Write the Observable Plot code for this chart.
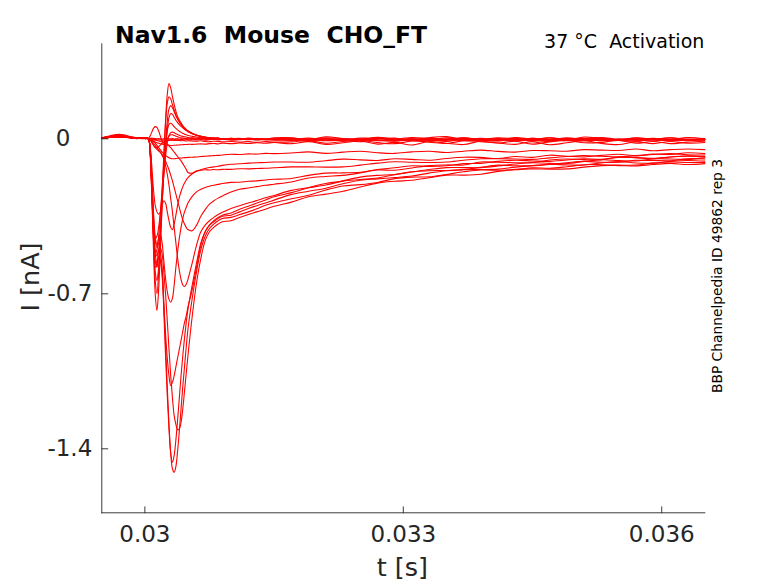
<!DOCTYPE html>
<html><head><meta charset="utf-8">
<script src="https://cdn.jsdelivr.net/npm/d3@7"></script>
<script src="https://cdn.jsdelivr.net/npm/@observablehq/plot@0.6"></script>
<style>body{margin:0;background:#fff}#chart{width:778px;height:583px}</style>
</head><body><div id="chart"></div>
<script>
// time samples (s)
const time = [0.0295,0.0297,0.0299,0.0300,0.03004,
0.03006,0.03008,0.0301,0.03012,0.03014,0.03016,0.03018,
0.0302,0.03022,0.03024,0.03026,0.03028,0.0303,0.03032,0.03034,0.03036,0.03038,0.0304,0.03042,0.03044,0.03046,0.03048,0.0305,
0.03055,0.0306,0.03065,0.0307,0.03075,0.0308,0.03085,0.0309,
0.0310,0.0311,0.0312,0.0313,0.0314,0.0315,
0.0317,0.0319,0.0321,0.0323,0.0325,0.0327,0.0329,0.0331,0.0333,0.0335,0.0337,0.0339,0.0341,0.0343,0.0345,0.0347,0.0349,0.0351,0.0353,0.0355,0.0357,0.0359,0.0361,0.0363,0.0365];

// current traces (nA)
const n1 = [0.004,0.015,0.002,0.003,0.001,
0.001,0,-0.002,-0.003,-0.004,-0.005,-0.005,
-0.006,-0.006,-0.005,-0.006,-0.007,-0.006,-0.006,-0.007,-0.008,-0.007,-0.008,-0.009,-0.008,-0.009,-0.01,-0.009,
-0.01,-0.011,-0.009,-0.012,-0.013,-0.011,-0.012,-0.014,
-0.012,-0.015,-0.013,-0.016,-0.013,-0.015,
-0.014,-0.008,-0.02,-0.012,-0.006,-0.017,-0.022,-0.01,-0.015,-0.021,-0.009,-0.013,-0.019,-0.011,-0.024,-0.014,-0.008,-0.018,-0.016,-0.007,-0.02,-0.012,-0.022,-0.015,-0.011];
const n2 = [0.002,0.02,0.004,0,0.002,
0.002,0.003,0.002,0.001,0,0.001,0,
-0.001,0,0.001,0,-0.001,0,0.001,-0.001,0,0.001,-0.002,0,-0.001,0.002,0,-0.001,
0.001,-0.002,0.003,0,-0.003,0.002,0.004,-0.001,
0.002,-0.002,0.003,0,-0.002,0.004,
0.004,-0.004,0.009,0.001,-0.005,0.007,-0.002,-0.006,0.005,0.01,-0.003,0.002,-0.007,0.006,-0.001,0.004,-0.005,0.008,0.001,-0.006,0.005,-0.002,-0.004,0.006,0.001];
const n3 = [0.006,0.01,0.001,0.004,0,
-0.002,-0.006,-0.01,-0.014,-0.018,-0.02,-0.022,
-0.024,-0.026,-0.028,-0.028,-0.029,-0.03,-0.03,-0.029,-0.029,-0.028,-0.028,-0.027,-0.027,-0.026,-0.026,-0.025,
-0.025,-0.024,-0.023,-0.024,-0.022,-0.021,-0.023,-0.02,
-0.022,-0.019,-0.021,-0.018,-0.02,-0.017,
-0.022,-0.013,-0.025,-0.018,-0.01,-0.024,-0.016,-0.028,-0.012,-0.02,-0.026,-0.011,-0.019,-0.025,-0.013,-0.027,-0.018,-0.009,-0.021,-0.026,-0.014,-0.022,-0.012,-0.02,-0.017];
const n4 = [0.003,0.008,0.005,0.001,0.001,
-0.005,-0.015,-0.028,-0.038,-0.04,-0.035,-0.028,
-0.02,-0.014,-0.01,-0.008,-0.006,-0.005,-0.005,-0.004,-0.004,-0.005,-0.004,-0.003,-0.004,-0.005,-0.003,-0.004,
-0.004,-0.005,-0.003,-0.006,-0.004,-0.002,-0.005,-0.003,
-0.006,-0.004,-0.002,-0.005,-0.003,-0.006,
-0.004,-0.011,0.001,-0.007,-0.013,-0.002,0.003,-0.009,-0.004,-0.012,0,-0.006,-0.01,0.002,-0.007,-0.012,-0.003,-0.009,0.001,-0.006,-0.011,-0.002,-0.008,-0.005,-0.003];
const r1 = [0.004,0.01,0.003,0.002,0.001,
0.012,0.03,0.047,0.055,0.052,0.035,0.012,
-0.01,-0.02,-0.015,0,0.012,0.018,0.018,0.015,0.012,0.009,0.006,0.004,0.003,0.002,0.001,0,
0,-0.001,0.002,-0.002,0.001,-0.003,0.001,-0.002,
0.002,-0.001,-0.003,0.001,-0.002,0,
-0.002,0.003,-0.005,0,-0.004,0.004,-0.003,-0.006,0.003,-0.002,0.005,-0.004,0.001,-0.006,0.002,-0.003,0.004,-0.001,0.002,-0.005,0,-0.002,0.004,-0.003,-0.001];
const f1 = [0.005,0.012,0.002,0.001,0,
-0.06,-0.25,-0.5,-0.7,-0.775,-0.68,-0.5,
-0.3,-0.1,0.08,0.2,0.25,0.23,0.19,0.155,0.125,0.1,0.085,0.072,0.06,0.05,0.042,0.035,
0.024,0.016,0.01,0.006,0.004,0.002,0.001,0,
-0.002,0.001,-0.003,0,-0.002,0.001,
0.001,-0.006,0,-0.005,0.003,0.002,-0.007,-0.001,-0.004,0.004,-0.002,-0.008,0,-0.003,0.002,-0.006,0.001,-0.002,-0.007,-0.001,-0.004,0.002,-0.005,-0.002,-0.003];
const f2 = [0.003,0.009,0.004,0.002,0.001,
-0.05,-0.22,-0.45,-0.64,-0.7,-0.6,-0.42,
-0.24,-0.07,0.07,0.16,0.19,0.18,0.155,0.13,0.108,0.09,0.077,0.065,0.055,0.047,0.04,0.034,
0.024,0.016,0.011,0.007,0.005,0.003,0.002,0,
0.001,-0.001,-0.003,0,-0.002,-0.004,
-0.004,-0.001,-0.008,-0.004,-0.002,-0.009,-0.003,0.001,-0.005,-0.007,-0.001,-0.004,-0.009,-0.002,-0.004,-0.007,0,-0.005,-0.008,-0.002,-0.004,-0.009,-0.003,-0.005,-0.004];
const f3 = [0.002,0.011,0.005,0.003,0,
-0.04,-0.2,-0.42,-0.6,-0.64,-0.58,-0.45,
-0.3,-0.15,-0.02,0.08,0.135,0.15,0.14,0.122,0.104,0.089,0.076,0.065,0.056,0.048,0.041,0.035,
0.025,0.017,0.011,0.007,0.004,0.002,0,-0.001,
-0.003,-0.001,-0.004,-0.002,-0.005,-0.003,
-0.006,-0.003,-0.009,-0.006,-0.002,-0.008,-0.011,-0.004,-0.007,-0.002,-0.009,-0.006,-0.003,-0.01,-0.006,-0.004,-0.009,-0.007,-0.002,-0.006,-0.01,-0.004,-0.008,-0.005,-0.006];
const f4 = [0.004,0.013,0.003,0.002,0.002,
-0.05,-0.24,-0.45,-0.58,-0.56,-0.5,-0.4,
-0.28,-0.16,-0.05,0.04,0.095,0.114,0.11,0.097,0.084,0.073,0.064,0.056,0.049,0.043,0.037,0.032,
0.023,0.016,0.011,0.008,0.005,0.003,0.002,0.001,
0,0.002,-0.001,0.001,-0.002,0,
0.003,-0.002,0.005,0,-0.004,0.004,-0.001,0.006,0.001,-0.003,0.004,-0.002,0.005,0,-0.003,0.004,-0.001,0.002,0.006,-0.002,0.003,-0.001,0.004,-0.002,0.001];
const f5 = [0.001,0.009,0.002,0.003,0.001,
-0.05,-0.22,-0.42,-0.52,-0.5,-0.44,-0.34,
-0.23,-0.12,-0.03,0.035,0.065,0.07,0.064,0.055,0.047,0.04,0.034,0.029,0.025,0.021,0.018,0.015,
0.011,0.008,0.005,0.003,0.002,0.001,0,-0.001,
0.001,-0.002,0,-0.003,-0.001,-0.002,
0,-0.004,-0.001,-0.006,-0.002,0.002,-0.003,-0.007,-0.001,-0.003,0.001,-0.005,-0.002,-0.007,-0.001,-0.003,-0.006,0.001,-0.002,-0.006,-0.003,0,-0.005,-0.002,-0.003];
const f6 = [0.003,0.01,0.003,0.001,0,
-0.04,-0.18,-0.36,-0.45,-0.44,-0.4,-0.33,
-0.25,-0.16,-0.08,-0.02,0.015,0.028,0.03,0.027,0.023,0.019,0.016,0.013,0.011,0.009,0.008,0.006,
0.004,0.003,0.001,0,-0.001,0,-0.002,-0.001,
-0.003,-0.001,-0.002,-0.004,-0.002,-0.003,
-0.007,-0.002,-0.008,-0.003,-0.001,-0.006,-0.009,-0.003,-0.007,-0.001,-0.008,-0.004,-0.001,-0.007,-0.003,-0.009,-0.002,-0.005,-0.009,-0.003,-0.006,-0.001,-0.005,-0.008,-0.004];
const s1 = [0.002,0.012,0.003,0.002,0,
0,-0.005,-0.012,-0.02,-0.03,-0.04,-0.05,
-0.06,-0.068,-0.075,-0.081,-0.086,-0.089,-0.09,-0.09,-0.089,-0.088,-0.087,-0.087,-0.086,-0.085,-0.085,-0.084,
-0.083,-0.082,-0.08,-0.079,-0.077,-0.076,-0.075,-0.073,
-0.07,-0.071,-0.068,-0.069,-0.066,-0.067,
-0.064,-0.059,-0.066,-0.06,-0.056,-0.063,-0.066,-0.059,-0.056,-0.062,-0.056,-0.051,-0.057,-0.06,-0.053,-0.054,-0.056,-0.049,-0.051,-0.053,-0.046,-0.054,-0.049,-0.046,-0.049];
const s2 = [0.005,0.011,0.001,0.003,0.001,
0,-0.002,-0.004,-0.006,-0.008,-0.01,-0.012,
-0.014,-0.016,-0.02,-0.025,-0.032,-0.04,-0.05,-0.06,-0.07,-0.08,-0.09,-0.1,-0.112,-0.125,-0.138,-0.152,
-0.155,-0.146,-0.14,-0.134,-0.13,-0.127,-0.124,-0.12,
-0.115,-0.113,-0.11,-0.108,-0.107,-0.105,
-0.105,-0.106,-0.099,-0.092,-0.095,-0.098,-0.09,-0.093,-0.097,-0.089,-0.083,-0.084,-0.089,-0.08,-0.084,-0.074,-0.079,-0.082,-0.075,-0.07,-0.076,-0.069,-0.071,-0.063,-0.067];
const s3 = [0.003,0.014,0.002,0.001,0.001,
-0.03,-0.12,-0.23,-0.3,-0.33,-0.34,-0.33,
-0.3,-0.28,-0.29,-0.33,-0.37,-0.4,-0.41,-0.385,-0.345,-0.3,-0.265,-0.238,-0.217,-0.2,-0.186,-0.175,
-0.158,-0.146,-0.142,-0.14,-0.141,-0.139,-0.14,-0.138,
-0.138,-0.135,-0.136,-0.134,-0.133,-0.131,
-0.127,-0.127,-0.128,-0.127,-0.119,-0.11,-0.104,-0.106,-0.107,-0.105,-0.097,-0.09,-0.09,-0.091,-0.093,-0.086,-0.08,-0.076,-0.079,-0.081,-0.077,-0.071,-0.067,-0.072,-0.073];
const m1 = [0.004,0.009,0.003,0.002,0,
-0.04,-0.17,-0.33,-0.44,-0.48,-0.45,-0.43,
-0.47,-0.55,-0.63,-0.69,-0.725,-0.738,-0.72,-0.66,-0.58,-0.51,-0.45,-0.4,-0.36,-0.33,-0.31,-0.29,
-0.26,-0.24,-0.228,-0.22,-0.214,-0.21,-0.206,-0.202,
-0.197,-0.196,-0.192,-0.19,-0.186,-0.183,
-0.179,-0.165,-0.155,-0.154,-0.151,-0.139,-0.131,-0.122,-0.125,-0.122,-0.112,-0.111,-0.102,-0.097,-0.1,-0.102,-0.096,-0.09,-0.093,-0.083,-0.085,-0.088,-0.082,-0.077,-0.08];
const m2 = [0.002,0.01,0.004,0.002,0.001,
-0.005,-0.015,-0.03,-0.04,-0.048,-0.055,-0.062,
-0.075,-0.09,-0.12,-0.16,-0.21,-0.27,-0.33,-0.4,-0.47,-0.54,-0.595,-0.635,-0.66,-0.667,-0.657,-0.635,
-0.56,-0.48,-0.42,-0.39,-0.37,-0.355,-0.342,-0.332,
-0.315,-0.302,-0.29,-0.279,-0.266,-0.256,
-0.233,-0.221,-0.209,-0.19,-0.173,-0.165,-0.161,-0.15,-0.139,-0.13,-0.13,-0.13,-0.123,-0.114,-0.108,-0.111,-0.112,-0.102,-0.095,-0.098,-0.1,-0.091,-0.091,-0.093,-0.086];
const m3 = [0.003,0.012,0.002,0.003,0,
-0.003,-0.01,-0.02,-0.03,-0.04,-0.05,-0.06,
-0.07,-0.085,-0.1,-0.12,-0.14,-0.165,-0.19,-0.22,-0.25,-0.28,-0.31,-0.34,-0.365,-0.385,-0.4,-0.41,
-0.415,-0.39,-0.35,-0.32,-0.295,-0.28,-0.268,-0.258,
-0.24,-0.228,-0.222,-0.216,-0.21,-0.205,
-0.195,-0.177,-0.17,-0.165,-0.154,-0.141,-0.142,-0.132,-0.121,-0.118,-0.118,-0.105,-0.106,-0.108,-0.107,-0.096,-0.091,-0.094,-0.094,-0.084,-0.085,-0.09,-0.082,-0.079,-0.082];
const b1 = [0.004,0.011,0.002,0.002,0.001,
-0.05,-0.21,-0.4,-0.52,-0.56,-0.53,-0.55,
-0.62,-0.75,-0.88,-0.99,-1.07,-1.114,-1.1,-1.07,-1.03,-0.99,-0.95,-0.91,-0.87,-0.83,-0.8,-0.76,
-0.68,-0.58,-0.48,-0.42,-0.39,-0.37,-0.355,-0.345,
-0.335,-0.318,-0.305,-0.29,-0.276,-0.262,
-0.243,-0.221,-0.202,-0.191,-0.184,-0.177,-0.162,-0.149,-0.144,-0.143,-0.139,-0.129,-0.119,-0.122,-0.122,-0.116,-0.108,-0.102,-0.106,-0.106,-0.097,-0.098,-0.099,-0.09,-0.091];
const b2 = [0.002,0.013,0.004,0.001,0.002,
-0.06,-0.23,-0.43,-0.55,-0.58,-0.54,-0.55,
-0.6,-0.78,-0.98,-1.16,-1.31,-1.42,-1.461,-1.43,-1.36,-1.27,-1.17,-1.07,-0.98,-0.9,-0.83,-0.77,
-0.66,-0.56,-0.47,-0.42,-0.39,-0.375,-0.36,-0.35,
-0.345,-0.33,-0.315,-0.302,-0.29,-0.277,
-0.251,-0.237,-0.223,-0.203,-0.187,-0.181,-0.175,-0.168,-0.155,-0.144,-0.14,-0.139,-0.137,-0.128,-0.121,-0.115,-0.118,-0.118,-0.109,-0.103,-0.109,-0.11,-0.102,-0.098,-0.101];
const b3 = [0.005,0.01,0.003,0.002,0,
-0.05,-0.2,-0.38,-0.5,-0.53,-0.5,-0.52,
-0.58,-0.74,-0.93,-1.12,-1.29,-1.42,-1.49,-1.506,-1.48,-1.41,-1.32,-1.22,-1.12,-1.03,-0.94,-0.86,
-0.72,-0.6,-0.5,-0.44,-0.405,-0.385,-0.37,-0.36,
-0.355,-0.342,-0.33,-0.316,-0.3,-0.289,
-0.271,-0.255,-0.231,-0.213,-0.207,-0.197,-0.18,-0.173,-0.172,-0.161,-0.149,-0.141,-0.142,-0.14,-0.131,-0.133,-0.126,-0.117,-0.117,-0.119,-0.119,-0.11,-0.105,-0.107,-0.107];
const b4 = [0.003,0.01,0.004,0.002,0.001,
-0.04,-0.18,-0.35,-0.46,-0.49,-0.47,-0.49,
-0.52,-0.6,-0.7,-0.82,-0.95,-1.07,-1.17,-1.25,-1.29,-1.315,-1.31,-1.28,-1.22,-1.14,-1.06,-0.98,
-0.8,-0.65,-0.54,-0.46,-0.42,-0.4,-0.385,-0.375,
-0.37,-0.355,-0.342,-0.33,-0.318,-0.305,
-0.286,-0.262,-0.25,-0.237,-0.218,-0.2,-0.192,-0.187,-0.176,-0.164,-0.164,-0.16,-0.147,-0.138,-0.136,-0.137,-0.136,-0.128,-0.121,-0.121,-0.123,-0.116,-0.111,-0.116,-0.112];

const xTicks = [0.03, 0.033, 0.036];
const xTickLabels = ["0.03", "0.033", "0.036"];
const yTicks = [0, -0.7, -1.4];
const yTickLabels = ["0", "-0.7", "-1.4"];

const traces = {n1, n2, n3, n4, r1, f1, f2, f3, f4, f5, f6, s1, s2, s3, m1, m2, m3, b1, b2, b3, b4};
const rows = [];
for (const [name, vals] of Object.entries(traces)) {
  if (vals.length !== time.length) console.error(name, vals.length);
  vals.forEach((v, k) => rows.push({trace: name, t: time[k], i: v}));
}

const axisColor = "#262626";
const tickShape = {draw(ctx, l) { ctx.moveTo(0, 0); ctx.lineTo(0, -l); }};

const plot = Plot.plot({
  width: 778, height: 583,
  marginLeft: 101.3, marginRight: 73.7, marginTop: 43.3, marginBottom: 70.7,
  style: {fontFamily: "DejaVu Sans", background: "white", overflow: "visible"},
  x: {domain: [0.0295, 0.0365], axis: null},
  y: {domain: [-1.689, 0.429], axis: null},
  marks: [
    Plot.line(rows, {x: "t", y: "i", z: "trace", stroke: "#ff0000", strokeWidth: 1.1, curve: "catmull-rom"}),
    Plot.frame({anchor: "left", stroke: axisColor, strokeWidth: 0.9}),
    Plot.frame({anchor: "bottom", stroke: axisColor, strokeWidth: 0.9}),
    Plot.vector(xTicks, {x: d => d, frameAnchor: "bottom", length: 6, rotate: 0, anchor: "start", shape: tickShape, stroke: axisColor, strokeWidth: 0.9}),
    Plot.vector(yTicks, {y: d => d, frameAnchor: "left", length: 6, rotate: 90, anchor: "start", shape: tickShape, stroke: axisColor, strokeWidth: 0.9}),
    Plot.text(xTicks, {x: d => d, frameAnchor: "bottom", dy: 21.5, text: (d, i) => xTickLabels[i], fontSize: 23, fill: axisColor, lineAnchor: "middle"}),
    Plot.text(yTicks, {filter: d => d !== 0, y: d => d, frameAnchor: "left", dx: -9.5, textAnchor: "end", text: d => yTickLabels[yTicks.indexOf(d)], fontSize: 23, fill: axisColor, lineAnchor: "middle"}),
    Plot.text(yTicks, {filter: d => d === 0, y: d => d, frameAnchor: "left", dx: -38.8, textAnchor: "middle", text: d => yTickLabels[yTicks.indexOf(d)], fontSize: 23, fill: axisColor, lineAnchor: "middle"})
  ]
});

const svg = d3.select(plot);
svg.append("text").attr("x", 115).attr("y", 42.7).attr("font-size", 23.5).attr("font-weight", "bold")
  .attr("text-anchor", "start").attr("fill", "#000").style("white-space", "pre").text("Nav1.6  Mouse  CHO_FT");
svg.append("text").attr("x", 704.3).attr("y", 48).attr("font-size", 19).attr("text-anchor", "end")
  .attr("fill", "#000").style("white-space", "pre").text("37 °C  Activation");
svg.append("text").attr("transform", "translate(39,277) rotate(-90)").attr("font-size", 25.5)
  .attr("text-anchor", "middle").attr("fill", axisColor).text("I [nA]");
svg.append("text").attr("x", 402.3).attr("y", 576).attr("font-size", 25.5)
  .attr("text-anchor", "middle").attr("fill", axisColor).text("t [s]");
svg.append("text").attr("transform", "translate(722,276) rotate(-90)").attr("font-size", 13.8)
  .attr("text-anchor", "middle").attr("fill", "#000").text("BBP Channelpedia ID 49862 rep 3");

document.getElementById("chart").appendChild(plot);
</script></body></html>
